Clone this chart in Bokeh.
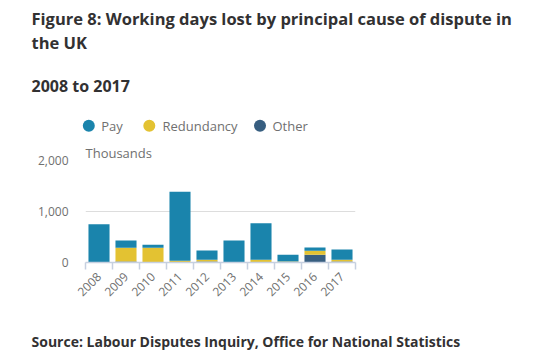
from bokeh.plotting import figure
from bokeh.models import Range1d, FixedTicker, Label
from bokeh.layouts import column
from bokeh.core.properties import value
from bokeh.embed import file_html
from bokeh.resources import INLINE

years = ["2008", "2009", "2010", "2011", "2012", "2013", "2014", "2015", "2016", "2017"]
pay = [750, 140, 60, 1350, 180, 430, 715, 132, 60, 200]
redundancy = [0, 270, 290, 35, 33, 0, 53, 20, 80, 33]
other = [0, 20, 0, 0, 20, 0, 0, 0, 152, 20]
series = ["Other", "Redundancy", "Pay"]
colors = {"Pay": "#1a84ac", "Redundancy": "#e3c232", "Other": "#375e80"}
y_ticks = [0, 1000, 2000]
y_tick_labels = {0: "0", 1000: "1,000", 2000: "2,000"}

FONT = "Open Sans"
TITLE_COLOR = "#323132"
GREY = "#707070"
W = 537
TOP_H, MAIN_H, BOT_H = 140, 190, 29
SHIFT = -5  # text baseline correction


def blank(h):
    f = figure(width=W, height=h, output_backend="svg", toolbar_location=None,
               x_range=Range1d(0, W), y_range=Range1d(h, 0),
               x_axis_location=None, y_axis_location=None,
               min_border=0, min_border_left=0, min_border_right=0,
               min_border_top=0, min_border_bottom=0)
    f.frame_align = False
    f.outline_line_color = None
    f.grid.visible = False
    return f


def txt(f, s, x, y, size, bold=False, color=TITLE_COLOR):
    f.text(x=[x], y=[y + SHIFT], text=[s], text_font=value(FONT), text_font_size=f"{size}px",
           text_font_style="bold" if bold else "normal", text_color=color,
           text_baseline="alphabetic", text_align="left")


# ---- header ----
top = blank(TOP_H)
txt(top, "Figure 8: Working days lost by principal cause of dispute in", 31, 23, 16.5, True)
txt(top, "the UK", 31, 46.5, 16.5, True)
txt(top, "2008 to 2017", 31, 90.5, 16, True)
legend_items = [("Pay", 88.3, 100.7), ("Redundancy", 148.8, 162), ("Other", 259.5, 272)]
for name, cx, tx in legend_items:
    top.scatter(x=[cx], y=[125.2], size=12, marker="circle", color=colors[name], line_color=None)
    txt(top, name, tx, 130.7, 13, False, GREY)

# ---- chart ----
p = figure(width=W, height=MAIN_H, output_backend="svg", toolbar_location=None,
           x_range=Range1d(0, len(years)), y_range=Range1d(0, 2000),
           min_border_left=85, min_border_right=W - 355,
           min_border_top=160 - TOP_H, min_border_bottom=TOP_H + MAIN_H - 262)
p.frame_align = False
p.outline_line_color = None

xc = [i + 0.5 for i in range(len(years))]
src = dict(x=xc, Pay=pay, Redundancy=redundancy, Other=other)
p.vbar_stack(series, x="x", width=0.78, source=src,
             color=[colors[s] for s in series], line_color=None)

p.yaxis.ticker = FixedTicker(ticks=y_ticks)
p.yaxis.major_label_overrides = y_tick_labels
p.yaxis.axis_line_color = None
p.yaxis.major_tick_line_color = None
p.yaxis.minor_tick_line_color = None
p.yaxis.major_label_text_font = FONT
p.yaxis.major_label_text_font_size = "12px"
p.yaxis.major_label_text_color = GREY
p.yaxis.major_label_standoff = 11

p.xaxis.ticker = FixedTicker(ticks=xc, minor_ticks=list(range(len(years) + 1)))
p.xaxis.major_label_overrides = {x: y for x, y in zip(xc, years)}
p.xaxis.axis_line_color = "#c6d0e0"
p.xaxis.axis_line_width = 1.5
p.xaxis.major_tick_line_color = None
p.xaxis.minor_tick_line_color = "#c6d0e0"
p.xaxis.minor_tick_line_width = 1.5
p.xaxis.minor_tick_out = 7
p.xaxis.minor_tick_in = 0
p.xaxis.major_label_orientation = 0.785398
p.xaxis.major_label_text_font = FONT
p.xaxis.major_label_text_font_size = "12px"
p.xaxis.major_label_text_color = GREY
p.xaxis.major_label_standoff = 5

p.xgrid.grid_line_color = None
p.ygrid.ticker = FixedTicker(ticks=y_ticks)
p.ygrid.grid_line_color = "#dddddd"

p.add_layout(Label(x=0, y=3 - SHIFT, x_units="screen", y_units="screen", text="Thousands",
                   text_font=FONT, text_font_size="13px", text_color=GREY,
                   text_baseline="alphabetic"), "above")

# ---- footer ----
bot = blank(BOT_H)
txt(bot, "Source: Labour Disputes Inquiry, Office for National Statistics", 31, 346 - TOP_H - MAIN_H, 14, True)

layout = column(top, p, bot, spacing=0)
open("out.html", "w").write(file_html(layout, INLINE))
